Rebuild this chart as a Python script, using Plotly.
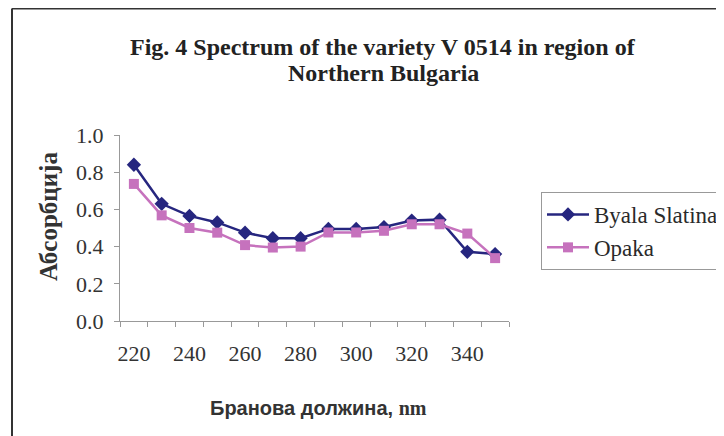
import plotly.graph_objects as go

wavelengths = [220, 230, 240, 250, 260, 270, 280, 290, 300, 310, 320, 330, 340, 350]
byala_slatina = [0.84, 0.63, 0.565, 0.53, 0.475, 0.445, 0.445, 0.495, 0.495, 0.505, 0.54, 0.545, 0.372, 0.36]
opaka = [0.737, 0.568, 0.50, 0.475, 0.408, 0.395, 0.40, 0.476, 0.476, 0.485, 0.52, 0.52, 0.47, 0.338]
x_tick_labels = [220, 240, 260, 280, 300, 320, 340]
y_tick_values = [0.0, 0.2, 0.4, 0.6, 0.8, 1.0]

serif = "Liberation Serif, Times New Roman, serif"
sans = "Liberation Sans, Arial, sans-serif"

# page body has an 8px margin; plot area in screen pixels: x 120..509, y 135..321
OFF = 8
L, R, T, B = 120, 509, 135, 321
W, H = 724, 436


def px(X):
    return (X - L) / (R - L)


def py(Y):
    return (B - Y) / (B - T)


fig = go.Figure()
fig.add_trace(go.Scatter(
    x=wavelengths, y=byala_slatina, name="Byala Slatina", mode="lines+markers",
    line=dict(color="#26267f", width=2.5),
    marker=dict(symbol="diamond", size=11, color="#26267f"),
))
fig.add_trace(go.Scatter(
    x=wavelengths, y=opaka, name="Opaka", mode="lines+markers",
    line=dict(color="#c672bd", width=2.5),
    marker=dict(symbol="square", size=10, color="#c672bd"),
))

fig.update_layout(
    width=W, height=H,
    margin=dict(l=L - OFF, r=W - (R - OFF), t=T - OFF, b=H - (B - OFF), autoexpand=False),
    paper_bgcolor="white", plot_bgcolor="white",
    showlegend=True,
    legend=dict(
        x=px(541), xanchor="left", y=py(192), yanchor="top",
        bordercolor="#999", borderwidth=1, bgcolor="white",
        font=dict(family=serif, size=23, color="#2a2a2a"),
        tracegroupgap=0, itemwidth=42,
    ),
    xaxis=dict(
        range=[215, 355],
        tickmode="array", tickvals=x_tick_labels, ticktext=[str(v) for v in x_tick_labels],
        ticks="", showgrid=False, zeroline=False,
        showline=True, linecolor="#999", linewidth=1,
        tickfont=dict(family=serif, size=22, color="#333"),
        ticklabelstandoff=13,
        minor=dict(ticks="outside", tick0=215, dtick=10, ticklen=5, tickcolor="#999", showgrid=False),
    ),
    yaxis=dict(
        range=[0, 1.0],
        tickmode="array", tickvals=y_tick_values, ticktext=[f"{v:.1f}" for v in y_tick_values],
        ticks="outside", ticklen=5, tickcolor="#999",
        showgrid=False, zeroline=False,
        showline=True, linecolor="#999", linewidth=1,
        tickfont=dict(family=serif, size=22, color="#333"),
        ticklabelstandoff=6,
    ),
    annotations=[
        dict(text="<b>Fig. 4 Spectrum of the variety V 0514 in region of</b>",
             x=px(383), y=py(47), xref="paper", yref="paper", xanchor="center", yanchor="middle",
             showarrow=False, font=dict(family=serif, size=24, color="#222")),
        dict(text="<b>Northern Bulgaria</b>",
             x=px(383), y=py(73), xref="paper", yref="paper", xanchor="center", yanchor="middle",
             showarrow=False, font=dict(family=serif, size=24, color="#222")),
        dict(text="<b>Абсорбција</b>", textangle=-90,
             x=px(48), y=py(217), xref="paper", yref="paper", xanchor="center", yanchor="middle",
             showarrow=False, font=dict(family=serif, size=25, color="#333")),
        dict(text="<b>Бранова должина, </b><span style='font-family:Liberation Serif'><b>nm</b></span>",
             x=px(318), y=py(408), xref="paper", yref="paper", xanchor="center", yanchor="middle",
             showarrow=False, font=dict(family=sans, size=20, color="#333")),
    ],
    shapes=[
        dict(type="line", xref="paper", yref="paper",
             x0=px(12), x1=px(760), y0=py(8.5), y1=py(8.5),
             line=dict(color="#333", width=2)),
        dict(type="line", xref="paper", yref="paper",
             x0=px(12), x1=px(12), y0=py(460), y1=py(8.5),
             line=dict(color="#333", width=2)),
    ],
)

fig.write_html("out.html")
